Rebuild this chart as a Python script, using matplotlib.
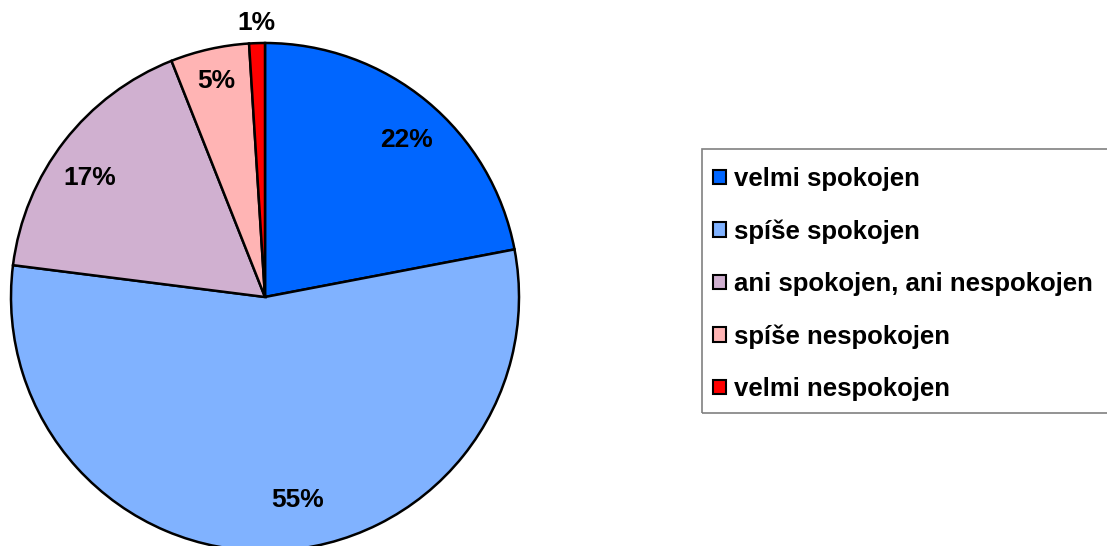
import matplotlib.pyplot as plt
import numpy as np
from matplotlib.patches import Rectangle

labels = ['velmi spokojen', 'spíše spokojen', 'ani spokojen, ani nespokojen',
          'spíše nespokojen', 'velmi nespokojen']
values = [22, 55, 17, 5, 1]
colors = ['#0066FF', '#80B2FF', '#D0B0D0', '#FFB4B4', '#FF0000']
# label placement: radius and angle nudge (deg) relative to wedge middle
label_r = [0.84, 0.80, 0.84, 0.88, 1.09]
label_da = [-2, 7.5, 3, 0, 0]

plt.rcParams['font.family'] = ['Liberation Sans', 'DejaVu Sans']

fig = plt.figure(figsize=(11.07, 5.46), dpi=100)
W, H = 1107, 546
cx, cy, r = 265, 249, 254
ax = fig.add_axes([(cx - r) / W, (cy - r) / H, 2 * r / W, 2 * r / H])
wedges, _ = ax.pie(values, colors=colors, startangle=90, counterclock=False,
                   wedgeprops=dict(edgecolor='black', linewidth=1.8))
ax.set_xlim(-1, 1)
ax.set_ylim(-1, 1)
ax.set_aspect('auto')
for w in wedges:
    w.set_clip_on(False)

# percentage labels
for w, v, rr, da in zip(wedges, values, label_r, label_da):
    ang = np.deg2rad((w.theta1 + w.theta2) / 2 + da)
    ax.text(rr * np.cos(ang), rr * np.sin(ang), f'{v}%', ha='center', va='center_baseline',
            fontsize=19, fontweight='bold', clip_on=False)

# legend frame (runs off the right edge)
fig.patches.append(Rectangle((702 / W, 1 - 413 / H), 420 / W, 264 / H,
                             transform=fig.transFigure, facecolor='none',
                             edgecolor='#808080', linewidth=1.2))
leg = fig.legend(wedges, labels, loc='upper left', bbox_to_anchor=(713 / W, 1 - 167 / H),
                 frameon=False, handlelength=0.5, handleheight=0.5, handletextpad=0.3,
                 labelspacing=1.1, borderaxespad=0, borderpad=0,
                 prop=dict(size=18.5, weight='bold'))
for h in leg.legend_handles:
    h.set_linewidth(1.5)

fig.savefig('out.png', dpi=100)
